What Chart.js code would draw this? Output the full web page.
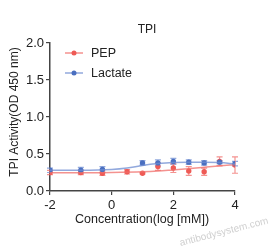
<!DOCTYPE html>
<html>
<head>
<meta charset="utf-8">
<script src="https://cdn.jsdelivr.net/npm/chart.js@4"></script>
<style>
  body { margin: 0; background: #fff; }
  #c { display: block; }
</style>
</head>
<body>
<canvas id="c" width="274" height="252"></canvas>
<script>
// measured points, log[mM]
var pepX = [-2, -1, -0.3, 0.5, 1, 1.5, 2, 2.5, 3, 3.5, 4];
var pepY = [0.25, 0.25, 0.24, 0.26, 0.24, 0.33, 0.31, 0.27, 0.26, 0.40, 0.35];
var pepErr = [0.03, 0.03, 0.03, 0.03, 0.01, 0.05, 0.06, 0.06, 0.05, 0.06, 0.11];

var lacX = [-2, -1, -0.3, 1, 1.5, 2, 2.5, 3, 3.5, 4];
var lacY = [0.28, 0.28, 0.29, 0.38, 0.38, 0.40, 0.39, 0.38, 0.39, 0.37];
var lacErr = [0.03, 0.04, 0.04, 0.03, 0.04, 0.04, 0.03, 0.03, 0.02, 0.03];

// fitted curves
var pepFitX = [-2, -1, 0, 1, 1.5, 2, 2.5, 3, 3.5, 4];
var pepFitY = [0.245, 0.245, 0.25, 0.26, 0.27, 0.285, 0.30, 0.32, 0.34, 0.355];
var lacFitX = [-2, -1, 0, 0.5, 1, 1.5, 2, 2.5, 3, 3.5, 4];
var lacFitY = [0.28, 0.28, 0.29, 0.31, 0.345, 0.37, 0.385, 0.39, 0.39, 0.385, 0.365];

var xTicks = [-2, 0, 2, 4];
var yTicks = [0, 0.5, 1.0, 1.5, 2.0];

var red = '#ee5a55';
var redLight = 'rgba(240,110,105,0.75)';
var blue = '#4a6fc0';
var blueLight = 'rgba(110,140,210,0.75)';
var font = '"Liberation Sans", Arial, sans-serif';

function pts(xs, ys) {
  return xs.map(function (x, i) { return { x: x, y: ys[i] }; });
}

var extras = {
  id: 'extras',
  beforeDatasetsDraw: function (chart) {
    var ctx = chart.ctx;
    var xs = chart.scales.x, ys = chart.scales.y;
    function bars(X, Y, E, col) {
      ctx.save();
      ctx.strokeStyle = col;
      ctx.lineWidth = 1.2;
      X.forEach(function (x, i) {
        var px = xs.getPixelForValue(x);
        var top = ys.getPixelForValue(Y[i] + E[i]);
        var bot = ys.getPixelForValue(Y[i] - E[i]);
        ctx.beginPath();
        ctx.moveTo(px, top); ctx.lineTo(px, bot);
        ctx.moveTo(px - 3, top); ctx.lineTo(px + 3, top);
        ctx.moveTo(px - 3, bot); ctx.lineTo(px + 3, bot);
        ctx.stroke();
      });
      ctx.restore();
    }
    bars(lacX, lacY, lacErr, blueLight);
    bars(pepX, pepY, pepErr, redLight);
  },
  afterDraw: function (chart) {
    var ctx = chart.ctx;
    ctx.save();
    ctx.fillStyle = '#222';
    ctx.textAlign = 'center';
    ctx.textBaseline = 'middle';
    ctx.font = '12px ' + font;
    ctx.fillText('TPI', 147, 30);

    ctx.font = '12.5px ' + font;
    ctx.fillText('Concentration(log [mM])', 142, 220);

    ctx.save();
    ctx.translate(15, 112);
    ctx.rotate(-Math.PI / 2);
    ctx.font = '12px ' + font;
    ctx.fillText('TPI Activity(OD 450 nm)', 0, 0);
    ctx.restore();

    // legend
    var items = [['PEP', redLight, red, 53], ['Lactate', blueLight, blue, 73]];
    items.forEach(function (it) {
      ctx.strokeStyle = it[1];
      ctx.lineWidth = 1.5;
      ctx.beginPath();
      ctx.moveTo(65, it[3]); ctx.lineTo(83, it[3]);
      ctx.stroke();
      ctx.fillStyle = it[2];
      ctx.beginPath();
      ctx.arc(74, it[3], 2.5, 0, Math.PI * 2);
      ctx.fill();
      ctx.fillStyle = '#222';
      ctx.textAlign = 'left';
      ctx.font = '12.5px ' + font;
      ctx.fillText(it[0], 91, it[3] + 1);
    });

    // watermark
    ctx.translate(224, 232);
    ctx.rotate(-0.25);
    ctx.fillStyle = 'rgba(195,195,195,0.8)';
    ctx.textAlign = 'center';
    ctx.font = '10px ' + font;
    ctx.fillText('antibodysystem.com', 0, 0);
    ctx.restore();
  }
};

new Chart(document.getElementById('c'), {
  type: 'scatter',
  data: {
    datasets: [
      { data: pts(lacFitX, lacFitY), showLine: true, borderColor: blueLight, borderWidth: 1.5,
        pointRadius: 0, tension: 0.4, cubicInterpolationMode: 'monotone' },
      { data: pts(pepFitX, pepFitY), showLine: true, borderColor: redLight, borderWidth: 1.5,
        pointRadius: 0, tension: 0.4, cubicInterpolationMode: 'monotone' },
      { data: pts(lacX, lacY), showLine: false, pointRadius: 2.7, pointBackgroundColor: blue,
        pointBorderWidth: 0, borderColor: blue },
      { data: pts(pepX, pepY), showLine: false, pointRadius: 2.7, pointBackgroundColor: red,
        pointBorderWidth: 0, borderColor: red }
    ]
  },
  options: {
    responsive: false,
    animation: false,
    layout: { padding: { top: 43, right: 39, left: 0, bottom: 0 } },
    plugins: { legend: { display: false }, tooltip: { enabled: false }, title: { display: false } },
    scales: {
      x: {
        type: 'linear', min: -2, max: 4,
        afterBuildTicks: function (s) { s.ticks = xTicks.map(function (v) { return { value: v }; }); },
        afterFit: function (s) { s.height = 61; },
        grid: { drawOnChartArea: false, color: '#444', tickLength: 4, lineWidth: 1.2 },
        border: { color: '#444', width: 1.5 },
        ticks: { color: '#222', padding: 3, font: { family: font, size: 13 } }
      },
      y: {
        min: 0, max: 2,
        afterBuildTicks: function (s) { s.ticks = yTicks.map(function (v) { return { value: v }; }); },
        afterFit: function (s) { s.width = 50; },
        grid: { drawOnChartArea: false, color: '#444', tickLength: 4, lineWidth: 1.2 },
        border: { color: '#444', width: 1.5 },
        ticks: { color: '#222', padding: 2, font: { family: font, size: 13 },
          callback: function (v) { return v.toFixed(1); } }
      }
    }
  },
  plugins: [extras]
});
</script>
</body>
</html>
